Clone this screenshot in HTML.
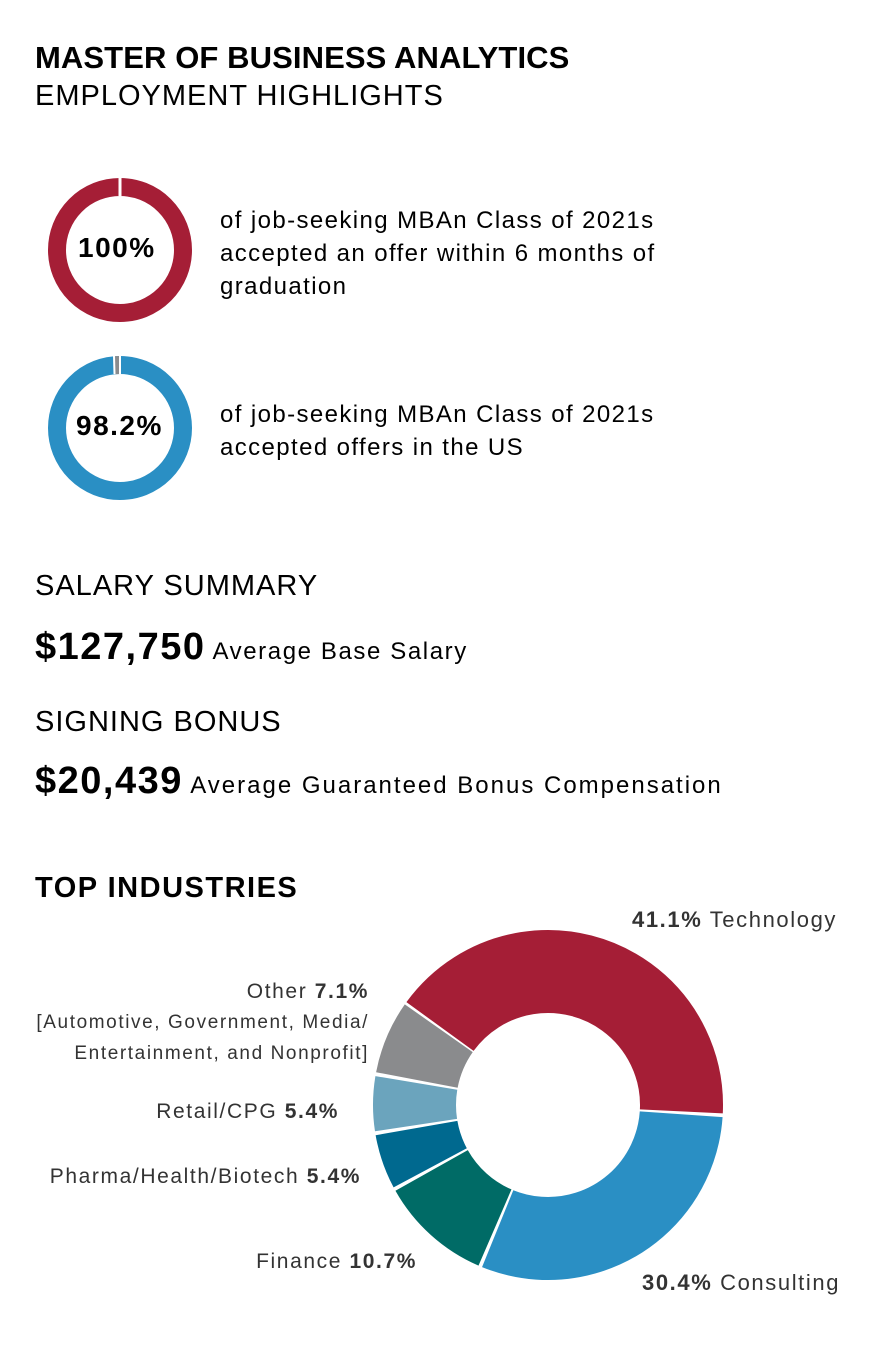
<!DOCTYPE html>
<html><head><meta charset="utf-8"><style>
body{margin:0;width:882px;height:1360px;background:#fff;font-family:"Liberation Sans",sans-serif;color:#000;position:relative;overflow:hidden}
.t{position:absolute;white-space:nowrap}
.lb{letter-spacing:1.6px}
</style></head><body>
<div class="t" style="left:35px;top:40px;font-size:31px;font-weight:bold;letter-spacing:0.1px">MASTER OF BUSINESS ANALYTICS</div>
<div class="t" style="left:35px;top:80px;font-size:29px;letter-spacing:1px">EMPLOYMENT HIGHLIGHTS</div>

<svg class="t" style="left:0;top:0" width="882" height="1360">
 <circle cx="120" cy="250" r="63" fill="none" stroke="#A51E36" stroke-width="18"/>
 <line x1="120" y1="176" x2="120" y2="196" stroke="#fff" stroke-width="3"/>
 <circle cx="120" cy="428" r="63" fill="none" stroke="#2A8FC4" stroke-width="18"/>
 <circle cx="120" cy="428" r="63" fill="none" stroke="#8A8B8D" stroke-width="18" stroke-dasharray="5 400" transform="rotate(-95 120 428)"/>
 <line x1="120" y1="356" x2="120" y2="374" stroke="#fff" stroke-width="2"/>
 <line x1="114" y1="356" x2="114.5" y2="374" stroke="#fff" stroke-width="2"/>
 <g fill="none" stroke-width="83">
  <circle cx="548" cy="1105" r="133.5" stroke="#A51E36" stroke-dasharray="341.8 900" transform="rotate(216 548 1105)"/>
  <circle cx="548" cy="1105" r="133.5" stroke="#2A8FC4" stroke-dasharray="252 900" transform="rotate(363.96 548 1105)"/>
  <circle cx="548" cy="1105" r="133.5" stroke="#006B66" stroke-dasharray="86.8 900" transform="rotate(473.4 548 1105)"/>
  <circle cx="548" cy="1105" r="133.5" stroke="#00698F" stroke-dasharray="42.3 900" transform="rotate(511.92 548 1105)"/>
  <circle cx="548" cy="1105" r="133.5" stroke="#6BA4BD" stroke-dasharray="42.3 900" transform="rotate(531.36 548 1105)"/>
  <circle cx="548" cy="1105" r="133.5" stroke="#8A8B8D" stroke-dasharray="56.6 900" transform="rotate(550.8 548 1105)"/>
 </g>
</svg>
<div class="t" style="left:78px;top:232px;font-size:28px;font-weight:bold;letter-spacing:1.5px">100%</div>
<div class="t" style="left:220px;top:204px;font-size:24px;line-height:33px;letter-spacing:1.4px">of job-seeking MBAn Class of 2021s<br>accepted an offer within 6 months of<br>graduation</div>
<div class="t" style="left:76px;top:410px;font-size:28px;font-weight:bold;letter-spacing:1.5px">98.2%</div>
<div class="t" style="left:220px;top:398px;font-size:24px;line-height:33px;letter-spacing:1.4px">of job-seeking MBAn Class of 2021s<br>accepted offers in the US</div>

<div class="t" style="left:35px;top:570px;font-size:29px;letter-spacing:1px">SALARY SUMMARY</div>
<div class="t" style="left:35px;top:626px;font-size:24px;letter-spacing:1.6px"><b style="font-size:38px;letter-spacing:1.5px">$127,750</b> Average Base Salary</div>
<div class="t" style="left:35px;top:706px;font-size:29px;letter-spacing:1px">SIGNING BONUS</div>
<div class="t" style="left:35px;top:760px;font-size:24px;letter-spacing:2px"><b style="font-size:38px;letter-spacing:1.5px">$20,439</b> Average Guaranteed Bonus Compensation</div>

<div class="t" style="left:35px;top:872px;font-size:29px;font-weight:bold;letter-spacing:1.5px">TOP INDUSTRIES</div>
<div class="t lb" style="left:632px;top:907px;font-size:22px;color:#333"><b>41.1%</b> Technology</div>
<div class="t lb" style="right:513px;top:977px;font-size:21px;color:#333;text-align:right;line-height:30px">Other <b>7.1%</b><br><span style="font-size:19px">[Automotive, Government, Media/</span><br><span style="font-size:19px">Entertainment, and Nonprofit]</span></div>
<div class="t lb" style="right:543px;top:1100px;font-size:21px;color:#333">Retail/CPG <b>5.4%</b></div>
<div class="t lb" style="right:521px;top:1165px;font-size:21px;color:#333">Pharma/Health/Biotech <b>5.4%</b></div>
<div class="t lb" style="right:465px;top:1250px;font-size:21px;color:#333">Finance <b>10.7%</b></div>
<div class="t lb" style="left:642px;top:1270px;font-size:22px;color:#333"><b>30.4%</b> Consulting</div>
</body></html>
